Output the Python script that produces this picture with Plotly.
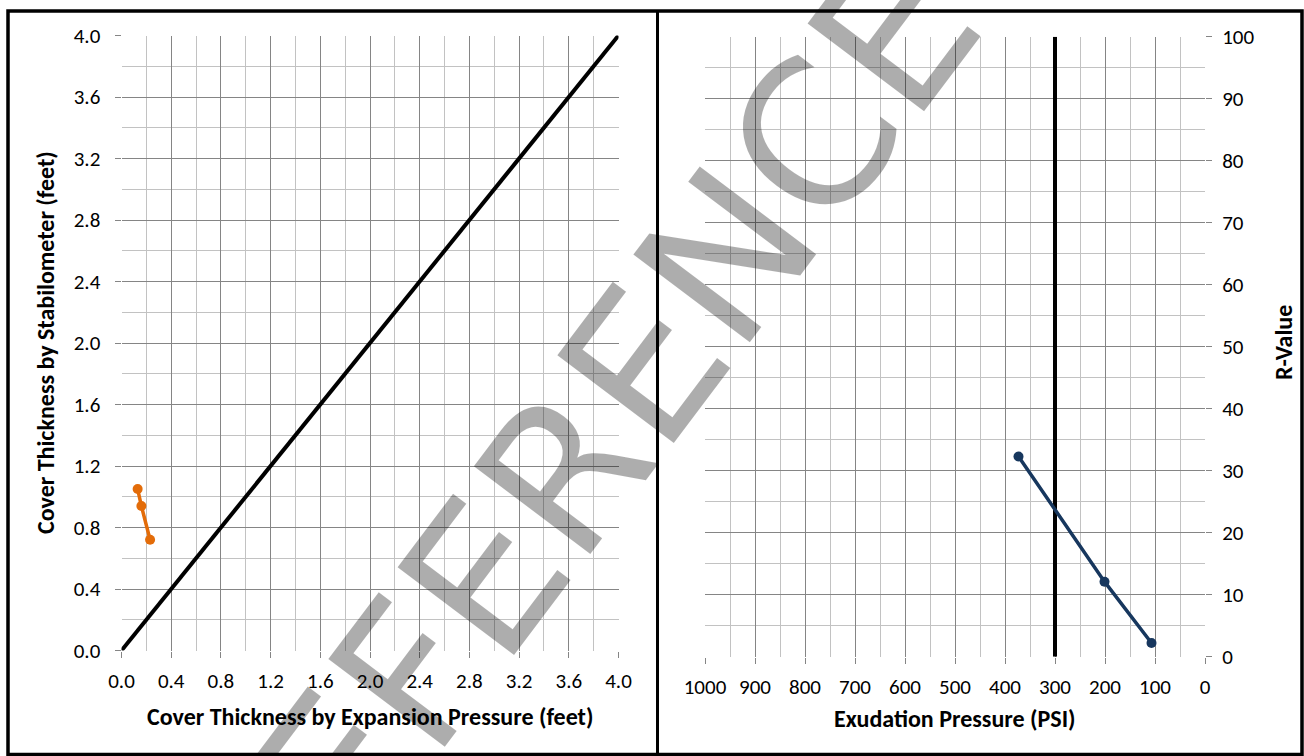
import plotly.graph_objects as go

W, H = 1304, 756

# ---- data ----
expansion_ft = [0.13, 0.16, 0.23]
stabilometer_ft = [1.05, 0.94, 0.72]
equality_x = [0, 4]
equality_y = [0, 4]

exudation_psi = [373, 201, 107]
r_value = [32.3, 12.1, 2.2]
limit_psi_x = [300, 300]
limit_psi_y = [0, 100]

left_ticks = [0.0, 0.4, 0.8, 1.2, 1.6, 2.0, 2.4, 2.8, 3.2, 3.6, 4.0]
psi_ticks = [1000, 900, 800, 700, 600, 500, 400, 300, 200, 100, 0]
r_ticks = [0, 10, 20, 30, 40, 50, 60, 70, 80, 90, 100]

FONT = "Carlito, 'Liberation Sans Narrow', 'Open Sans', sans-serif"
MAJ = "#858585"
MIN = "#c2c2c2"


def px_x(p):
    return p / W


def px_y(p):
    return 1 - p / H


fig = go.Figure()

fig.add_trace(go.Scatter(x=equality_x, y=equality_y, mode="lines",
                         line=dict(color="black", width=4),
                         xaxis="x", yaxis="y", showlegend=False))
fig.add_trace(go.Scatter(x=expansion_ft, y=stabilometer_ft, mode="lines+markers",
                         line=dict(color="#E36C09", width=3.5),
                         marker=dict(color="#E36C09", size=10),
                         xaxis="x", yaxis="y", showlegend=False))
fig.add_trace(go.Scatter(x=limit_psi_x, y=limit_psi_y, mode="lines",
                         line=dict(color="black", width=4),
                         xaxis="x2", yaxis="y2", showlegend=False))
fig.add_trace(go.Scatter(x=exudation_psi, y=r_value, mode="lines+markers",
                         line=dict(color="#17375E", width=3.5),
                         marker=dict(color="#17375E", size=10),
                         xaxis="x2", yaxis="y2", showlegend=False))

common = dict(showgrid=True, gridcolor=MAJ, gridwidth=1, zeroline=False,
              showline=False, ticks="outside", ticklen=6, tickcolor=MAJ,
              automargin=False,
              tickfont=dict(family=FONT, size=21, color="black"))

fig.update_layout(
    width=W, height=H,
    margin=dict(l=0, r=0, t=0, b=0),
    paper_bgcolor="white", plot_bgcolor="white",
    font=dict(family=FONT, color="black"),
    xaxis=dict(domain=[px_x(121.5), px_x(618.5)], range=[0, 4],
               tickvals=left_ticks, ticktext=[f"{v:.1f}" for v in left_ticks],
               minor=dict(tickvals=[i * 0.2 for i in range(21)], showgrid=True,
                          gridcolor=MIN, ticks=""),
               anchor="y", ticklabelstandoff=5, **common),
    yaxis=dict(domain=[px_y(650.5), px_y(35.5)], range=[0, 4],
               tickvals=left_ticks, ticktext=[f"{v:.1f}" for v in left_ticks],
               minor=dict(tickvals=[i * 0.2 for i in range(21)], showgrid=True,
                          gridcolor=MIN, ticks=""),
               anchor="x", ticklabelstandoff=10, **common),
    xaxis2=dict(domain=[px_x(705), px_x(1205)], range=[1000, 0],
                tickvals=psi_ticks,
                minor=dict(tickvals=list(range(0, 1001, 50)), showgrid=True,
                           gridcolor=MIN, ticks=""),
                anchor="y2", ticklabelstandoff=5, **common),
    yaxis2=dict(domain=[px_y(656.7), px_y(36.7)], range=[0, 100],
                tickvals=r_ticks, side="right",
                minor=dict(tickvals=list(range(0, 101, 5)), showgrid=True,
                           gridcolor=MIN, ticks=""),
                anchor="x2", ticklabelstandoff=6, **common),
)

title_font = dict(family=FONT, size=24, color="black")
annotations = [
    dict(text="<b>Cover Thickness by Expansion Pressure (feet)</b>", x=px_x(370), y=px_y(716),
         xref="paper", yref="paper", showarrow=False, font=title_font,
         xanchor="center", yanchor="middle"),
    dict(text="<b>Cover Thickness by Stabilometer (feet)</b>", x=px_x(45), y=px_y(343),
         xref="paper", yref="paper", showarrow=False, font=title_font, textangle=-90,
         xanchor="center", yanchor="middle"),
    dict(text="<b>Exudation Pressure (PSI)</b>", x=px_x(955), y=px_y(718),
         xref="paper", yref="paper", showarrow=False, font=title_font,
         xanchor="center", yanchor="middle"),
    dict(text="<b>R-Value</b>", x=px_x(1283), y=px_y(343),
         xref="paper", yref="paper", showarrow=False, font=title_font, textangle=-90,
         xanchor="center", yanchor="middle"),
    dict(text="REFERENCE", x=px_x(575), y=px_y(458),
         xref="paper", yref="paper", showarrow=False,
         font=dict(family="DejaVu Sans", size=200, color="rgba(0,0,0,0.32)"),
         textangle=-53, xanchor="center", yanchor="middle"),
]
fig.update_layout(annotations=annotations)

fig.update_layout(shapes=[
    dict(type="rect", xref="paper", yref="paper",
         x0=px_x(8), x1=px_x(1302), y0=px_y(754.5), y1=px_y(11),
         line=dict(color="black", width=3.5)),
    dict(type="line", xref="paper", yref="paper",
         x0=px_x(657.5), x1=px_x(657.5), y0=px_y(754.5), y1=px_y(11),
         line=dict(color="black", width=3)),
])

fig.write_html("out.html",
               config={"displayModeBar": False},
               post_script="document.body.style.margin='0';document.body.style.overflow='hidden';")
